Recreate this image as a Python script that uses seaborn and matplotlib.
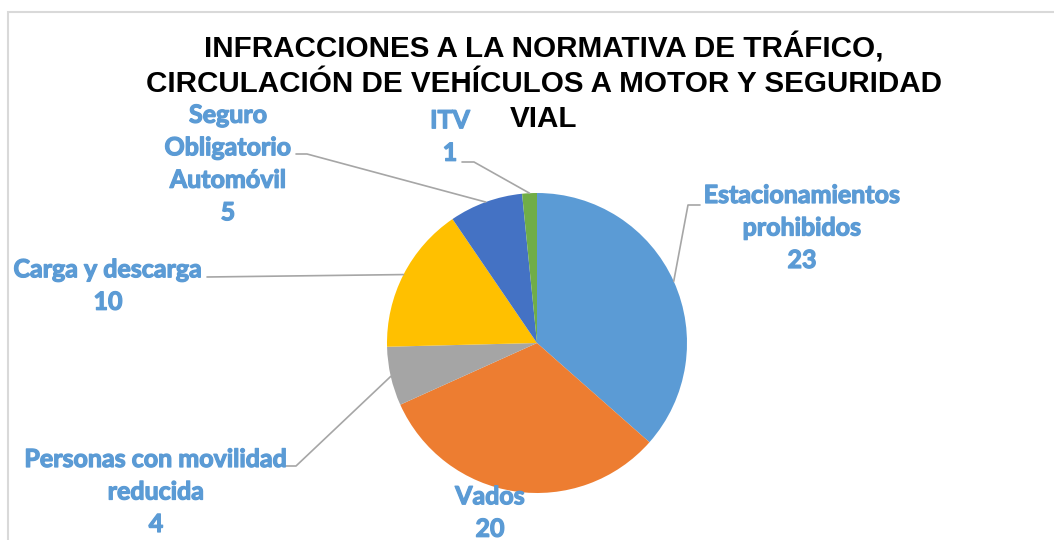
import numpy as np
import matplotlib
matplotlib.use("Agg")
import matplotlib.pyplot as plt
import matplotlib.patheffects as pe
import seaborn as sns
from matplotlib.patches import Rectangle

categories = ["Estacionamientos\nprohibidos", "Vados", "Personas con movilidad\nreducida",
              "Carga y descarga", "Seguro\nObligatorio\nAutomóvil", "ITV"]
values = [23, 20, 4, 10, 5, 1]
colors = ["#5B9BD5", "#ED7D31", "#A5A5A5", "#FFC000", "#4472C4", "#70AD47"]
title = "INFRACCIONES A LA NORMATIVA DE TRÁFICO,\nCIRCULACIÓN DE VEHÍCULOS A MOTOR Y SEGURIDAD\nVIAL"

sns.set_theme(style="white")
plt.rcParams['font.family'] = ['Lato', 'DejaVu Sans']

W, H = 1054, 540
fig = plt.figure(figsize=(W / 100, H / 100), dpi=100)
ax = fig.add_axes([0, 0, 1, 1])

def Y(y):
    return H - y

# chart frame
ax.add_patch(Rectangle((8, Y(700)), 1200, 688, fill=False, edgecolor="#D9D9D9", lw=1.5))

cx, cy, r = 537, 343, 150
wedges, _ = ax.pie(values, colors=colors, startangle=90, counterclock=False,
                   center=(cx, Y(cy)), radius=r, frame=True,
                   wedgeprops=dict(linewidth=0))
ax.set_xlim(0, W)
ax.set_ylim(0, H)
ax.set_aspect('equal')
ax.axis('off')

lab_col = "#5B9BD5"
line_col = "#A6A6A6"
# label block centers (pixels) and leader start points (pixels)
label_pos = [(802, 228), (490, 513), (156, 492), (108, 286), (228, 164), (450, 137)]
leader_start = [[(700, 205), (688, 205)], None, [(285, 466), (296, 466)],
                [(207, 277)], [(296, 154), (307, 154)], [(462, 162), (474, 162)]]

for i, (w, cat, v) in enumerate(zip(wedges, categories, values)):
    lx, ly = label_pos[i]
    ax.text(lx, Y(ly), f"{cat}\n{v}", ha="center", va="center", color=lab_col,
            fontsize=18, fontweight="bold", linespacing=1.5,
            path_effects=[pe.withStroke(linewidth=0.9, foreground=lab_col)])
    if leader_start[i] is not None:
        ang = np.deg2rad((w.theta1 + w.theta2) / 2)
        ex, ey = cx + r * np.cos(ang), Y(cy) + r * np.sin(ang)
        pts = [(x, Y(y)) for x, y in leader_start[i]] + [(ex, ey)]
        xs, ys = zip(*pts)
        ax.plot(xs, ys, color=line_col, lw=1.2)

ax.text(544, Y(83), title, ha="center", va="center", fontsize=21.3, fontweight="bold",
        family=["Liberation Sans", "DejaVu Sans"], color="black", linespacing=1.3)

fig.savefig("out.png", dpi=100, facecolor="white")
